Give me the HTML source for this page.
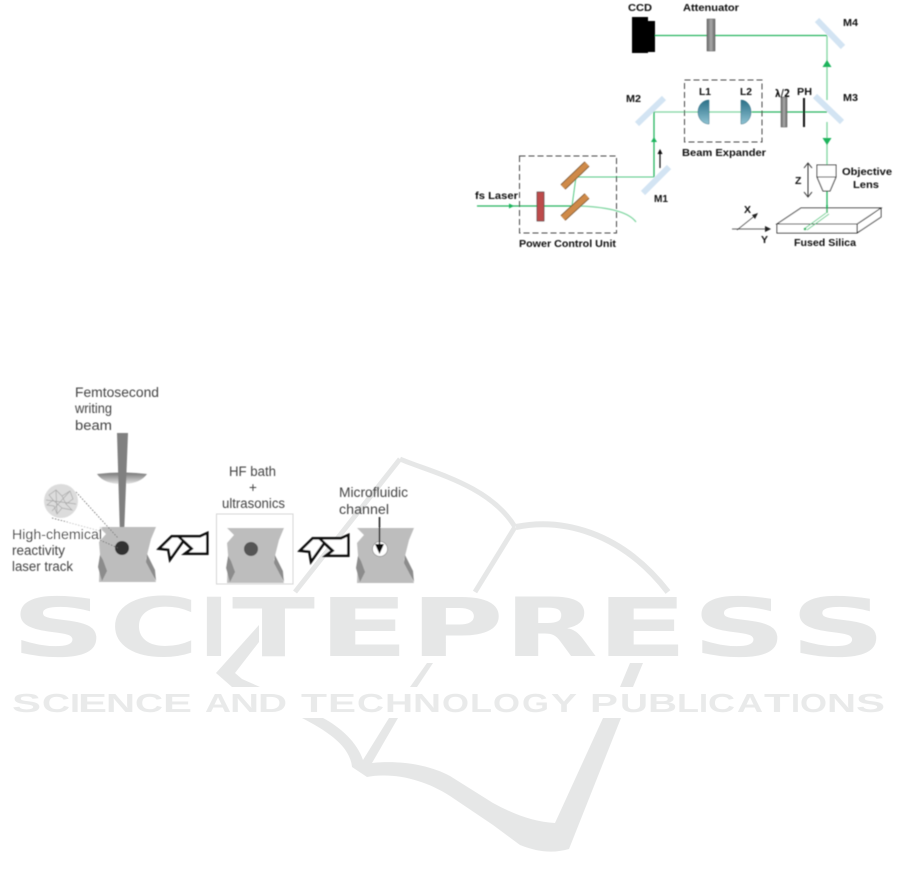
<!DOCTYPE html>
<html><head><meta charset="utf-8"><style>
html,body{margin:0;padding:0;background:#fff}
svg{display:block}
.b{font:bold 10.5px "Liberation Sans",sans-serif;fill:#111}
.t{font:13.5px "Liberation Sans",sans-serif;fill:#444}
.w{font:bold 81px "DejaVu Sans",sans-serif;fill:#e6e7e7}
.v{font:bold 26px "Liberation Sans",sans-serif;fill:#e9eaea}
</style></head><body>
<svg width="901" height="887" viewBox="0 0 901 887" xmlns="http://www.w3.org/2000/svg">
<defs>
<linearGradient id="gr" x1="0" x2="1" y1="0" y2="0"><stop offset="0" stop-color="#666"/><stop offset=".5" stop-color="#aaa"/><stop offset="1" stop-color="#666"/></linearGradient>
<linearGradient id="te" x1="0" x2="0" y1="0" y2="1"><stop offset="0" stop-color="#2b7088"/><stop offset="1" stop-color="#8fc3d3"/></linearGradient>
<linearGradient id="disk" x1="0" x2="0" y1="0" y2="1"><stop offset="0" stop-color="#777"/><stop offset="1" stop-color="#e4e4e4"/></linearGradient>
<filter id="s" x="-5%" y="-5%" width="110%" height="110%"><feGaussianBlur stdDeviation=".45"/></filter>
<filter id="s2" x="-5%" y="-5%" width="110%" height="110%"><feGaussianBlur stdDeviation=".6"/></filter>
<g id="sample">
<polygon points="0,0 57,0 52,12 47,32 57,55 0,55 1,27 0,15 7,7" fill="#bdbdbd"/>
<polygon points="1,28 -1,40 3,54 8,44 4,33" fill="#8c8c8c"/>
<polygon points="48,27 56,43 57,54 47,35" fill="#8c8c8c"/>
</g>
<g id="icon" fill="#fff" stroke="#111" stroke-width="2.6" stroke-linejoin="miter">
<polygon points="0,15.700 12.700,3.300 41,3.300 48.300,0 48.300,20.700 26,20.700 32.700,15.700 24.300,8 11,26.700 9.300,16.700"/>
<path d="M19.300 3.300L32.700 15.700" fill="none"/>
</g>
</defs>

<!-- watermark -->
<g fill="none" stroke="#e6e7e7" stroke-linecap="butt">
<path d="M400 459L295 592" stroke-width="5"/>
<path d="M400 459C430 472 490 485 515 527" stroke-width="5"/>
<path d="M515 527L475 592" stroke-width="5"/>
<path d="M516 527C560 518 620 530 668 592" stroke-width="6"/>
</g>
<g fill="#e6e7e7">
<polygon points="259,625 259,642 235,673 242,679 260,687 232,687 216,673"/>
<polygon points="427,663 433,663 417,687 410,687"/>
<polygon points="438,642 446,642 440,652"/>
<polygon points="630,663 643,663 633,687 620,687"/>
<path d="M302 718L323 718C340 727 357 742 363 760L389 718L398 718L372 763C400 760 430 765 450 776L493 803C515 815 535 822 555 823L603 718L621 718L569 849C555 853 540 853 520 845L493 825L450 796C425 780 395 772 367 777L352 767C350 745 325 730 302 718Z"/>
</g>
<g class="w">
<text x="11" y="656" textLength="95" lengthAdjust="spacingAndGlyphs">S</text>
<text x="109" y="656" textLength="90" lengthAdjust="spacingAndGlyphs">C</text>
<text x="200" y="656" textLength="28" lengthAdjust="spacingAndGlyphs">I</text>
<text x="232" y="656" textLength="83" lengthAdjust="spacingAndGlyphs">T</text>
<text x="318" y="656" textLength="91" lengthAdjust="spacingAndGlyphs">E</text>
<text x="410" y="656" textLength="94" lengthAdjust="spacingAndGlyphs">P</text>
<text x="504" y="656" textLength="94" lengthAdjust="spacingAndGlyphs">R</text>
<text x="596" y="656" textLength="92" lengthAdjust="spacingAndGlyphs">E</text>
<text x="692" y="656" textLength="95" lengthAdjust="spacingAndGlyphs">S</text>
<text x="790" y="656" textLength="96" lengthAdjust="spacingAndGlyphs">S</text>
</g>
<g class="v">
<text x="12" y="712" textLength="29" lengthAdjust="spacingAndGlyphs">S</text>
<text x="42" y="712" textLength="28" lengthAdjust="spacingAndGlyphs">C</text>
<text x="70" y="712" textLength="10" lengthAdjust="spacingAndGlyphs">I</text>
<text x="78" y="712" textLength="29" lengthAdjust="spacingAndGlyphs">E</text>
<text x="106" y="712" textLength="29" lengthAdjust="spacingAndGlyphs">N</text>
<text x="135" y="712" textLength="28" lengthAdjust="spacingAndGlyphs">C</text>
<text x="163" y="712" textLength="29" lengthAdjust="spacingAndGlyphs">E</text>
<text x="205" y="712" textLength="26" lengthAdjust="spacingAndGlyphs">A</text>
<text x="230" y="712" textLength="29" lengthAdjust="spacingAndGlyphs">N</text>
<text x="258" y="712" textLength="29" lengthAdjust="spacingAndGlyphs">D</text>
<text x="301" y="712" textLength="26" lengthAdjust="spacingAndGlyphs">T</text>
<text x="328" y="712" textLength="28" lengthAdjust="spacingAndGlyphs">E</text>
<text x="357" y="712" textLength="27" lengthAdjust="spacingAndGlyphs">C</text>
<text x="385" y="712" textLength="28" lengthAdjust="spacingAndGlyphs">H</text>
<text x="413" y="712" textLength="28" lengthAdjust="spacingAndGlyphs">N</text>
<text x="442" y="712" textLength="27" lengthAdjust="spacingAndGlyphs">O</text>
<text x="470" y="712" textLength="22" lengthAdjust="spacingAndGlyphs">L</text>
<text x="493" y="712" textLength="27" lengthAdjust="spacingAndGlyphs">O</text>
<text x="522" y="712" textLength="27" lengthAdjust="spacingAndGlyphs">G</text>
<text x="551" y="712" textLength="26" lengthAdjust="spacingAndGlyphs">Y</text>
<text x="590" y="712" textLength="28" lengthAdjust="spacingAndGlyphs">P</text>
<text x="620" y="712" textLength="28" lengthAdjust="spacingAndGlyphs">U</text>
<text x="648" y="712" textLength="29" lengthAdjust="spacingAndGlyphs">B</text>
<text x="677" y="712" textLength="22" lengthAdjust="spacingAndGlyphs">L</text>
<text x="699" y="712" textLength="9" lengthAdjust="spacingAndGlyphs">I</text>
<text x="708" y="712" textLength="27" lengthAdjust="spacingAndGlyphs">C</text>
<text x="737" y="712" textLength="26" lengthAdjust="spacingAndGlyphs">A</text>
<text x="764" y="712" textLength="26" lengthAdjust="spacingAndGlyphs">T</text>
<text x="791" y="712" textLength="9" lengthAdjust="spacingAndGlyphs">I</text>
<text x="800" y="712" textLength="27" lengthAdjust="spacingAndGlyphs">O</text>
<text x="827" y="712" textLength="29" lengthAdjust="spacingAndGlyphs">N</text>
<text x="856" y="712" textLength="29" lengthAdjust="spacingAndGlyphs">S</text>
</g>

<!-- optical setup -->
<g filter="url(#s)">
<rect x="632" y="17" width="16" height="36" fill="#000"/>
<rect x="648" y="21" width="7" height="31" fill="#000"/>
<g stroke="#d3e4f3" stroke-width="6">
<path d="M817 20L843 47M815 96L842 122M637 124L664 98M643 193L669 167"/>
</g>
<g fill="none" stroke="#7fd6a0" stroke-width="1.300">
<path d="M827 36V100M654 112H752M827 122V165"/>
</g>
<g fill="none" stroke="#22b45e" stroke-width="1.300">
<path d="M655 35.500H827M752 112H827M654 112V177"/>
<path d="M477 206H572"/>
<path d="M827 191V213"/>
</g>
<path d="M572 206L576 177H654" fill="none" stroke="#55c985" stroke-width="1"/>
<path d="M580 206C605 207 628 211 636 222" fill="none" stroke="#7fd6a0" stroke-width="1.200"/>
<rect x="707" y="19" width="8" height="32" fill="url(#gr)" stroke="#555" stroke-width=".5"/>
<g fill="#1db45c">
<polygon points="827,60 822.500,67 831.500,67"/>
<polygon points="827,145 822.500,138 831.500,138"/>
<polygon points="654,137 651,142 657,142"/>
<polygon points="514,206 509,203.500 509,208.500"/>
</g>
<rect x="684.500" y="80" width="77.500" height="62" fill="none" stroke="#444" stroke-width="1" stroke-dasharray="6 3"/>
<rect x="519.500" y="156" width="97" height="77" fill="none" stroke="#444" stroke-width="1" stroke-dasharray="6 3"/>
<path d="M709 100A11 12 0 0 0 709 124Z" fill="url(#te)" stroke="#2a6478" stroke-width=".5"/>
<path d="M741 100A10 12 0 0 1 741 124Z" fill="url(#te)" stroke="#2a6478" stroke-width=".5"/>
<rect x="781" y="97" width="6" height="30" fill="url(#gr)" stroke="#555" stroke-width=".5"/>
<rect x="803" y="98" width="2" height="29" fill="#111"/>
<rect x="537" y="192" width="7" height="29" fill="#bd4b4b" stroke="#333" stroke-width=".6"/>
<g stroke="#5c3a1e" stroke-width="7"><path d="M563 187L587 164M563 218L587 196"/></g>
<g stroke="#cf8a4a" stroke-width="5.600"><path d="M563 187L587 164M563 218L587 196"/></g>
<path d="M660 168V150" stroke="#111" stroke-width="1.200"/><polygon points="660,149 657.500,154 662.500,154" fill="#111"/>
<path d="M808 164V196" stroke="#333" stroke-width="1"/><path d="M804 168L808 163L812 168M804 192L808 197L812 192" fill="none" stroke="#333" stroke-width="1"/>
<path d="M817 165H836V177L830 191H823L817 177ZM817 177H836" fill="#fff" stroke="#333" stroke-width="1"/>
<path d="M777 224L801 208H881L857 224ZM777 224V233H857V224M857 233L881 217V208" fill="#fff" stroke="#222" stroke-width="1"/>
<path d="M826 213L804 229M829 214L807 230" fill="none" stroke="#5fce8c" stroke-width="1"/>
<circle cx="805" cy="229" r="1.300" fill="#1db45c"/>
<path d="M827 205V213" stroke="#1db45c" stroke-width="1.500"/>
<path d="M737 230L757 214" stroke="#333" stroke-width=".8"/><polygon points="758,213 752,215 755,219" fill="#222"/>
<path d="M732 229H768" stroke="#333" stroke-width=".8"/><polygon points="771,229 765,226 765,232" fill="#222"/>
<g class="b">
<text x="628" y="11" textLength="24" lengthAdjust="spacingAndGlyphs">CCD</text>
<text x="683" y="11" textLength="56" lengthAdjust="spacingAndGlyphs">Attenuator</text>
<text x="843" y="26" textLength="15" lengthAdjust="spacingAndGlyphs">M4</text>
<text x="699" y="95" textLength="12" lengthAdjust="spacingAndGlyphs">L1</text>
<text x="740" y="95" textLength="12" lengthAdjust="spacingAndGlyphs">L2</text>
<text x="775" y="97" textLength="15" lengthAdjust="spacingAndGlyphs" font-family="DejaVu Sans">λ/2</text>
<text x="797" y="95" textLength="15" lengthAdjust="spacingAndGlyphs">PH</text>
<text x="843" y="101" textLength="15" lengthAdjust="spacingAndGlyphs">M3</text>
<text x="626" y="102" textLength="15" lengthAdjust="spacingAndGlyphs">M2</text>
<text x="682" y="156" textLength="84" lengthAdjust="spacingAndGlyphs">Beam Expander</text>
<text x="475" y="199" textLength="43" lengthAdjust="spacingAndGlyphs">fs Laser</text>
<text x="654" y="202" textLength="14" lengthAdjust="spacingAndGlyphs">M1</text>
<text x="519" y="247" textLength="97" lengthAdjust="spacingAndGlyphs">Power Control Unit</text>
<text x="795" y="184">Z</text>
<text x="842" y="175" textLength="50" lengthAdjust="spacingAndGlyphs">Objective</text>
<text x="853" y="188" textLength="26" lengthAdjust="spacingAndGlyphs">Lens</text>
<text x="744" y="213">X</text>
<text x="761" y="243">Y</text>
<text x="794" y="246" textLength="62" lengthAdjust="spacingAndGlyphs">Fused Silica</text>
</g>
</g>

<!-- process figure -->
<g filter="url(#s2)">
<text class="t" x="75" y="397" textLength="84" lengthAdjust="spacingAndGlyphs">Femtosecond</text>
<text class="t" x="75" y="413" textLength="37" lengthAdjust="spacingAndGlyphs">writing</text>
<text class="t" x="75" y="430" textLength="37" lengthAdjust="spacingAndGlyphs">beam</text>
<path d="M97 474Q122 471 147 474Q140 484 122 484Q104 484 97 474Z" fill="url(#disk)"/>
<polygon points="117,433 128,433 124,536 120,536" fill="#808080"/>
<circle cx="61" cy="501" r="17" fill="#dcdcdc"/>
<path d="M49 495L56 490L62 496L70 491L73 499L66 504L72 510L62 508L57 514L54 506L47 505L53 500ZM56 490L57 514M46 500L76 504M52 511L70 491M62 496L66 504M53 500L62 508" fill="none" stroke="#a8a8a8" stroke-width=".7"/>
<use href="#sample" x="99" y="527"/>
<circle cx="122" cy="548" r="7" fill="#333"/>
<path d="M76 492L118 538M52 518L100 531M100 540L118 548" fill="none" stroke="#666" stroke-width=".8" stroke-dasharray="1.500 1.500"/>
<rect x="12" y="522" width="90" height="16" fill="#fff" opacity=".55"/>
<text class="t" x="12" y="539" textLength="90" lengthAdjust="spacingAndGlyphs">High-chemical</text>
<text class="t" x="12" y="555" textLength="53" lengthAdjust="spacingAndGlyphs">reactivity</text>
<text class="t" x="12" y="571" textLength="61" lengthAdjust="spacingAndGlyphs">laser track</text>
<use href="#icon" x="159" y="533"/>
<use href="#icon" x="300" y="535"/>
<rect x="216.500" y="514" width="76.500" height="70" fill="#fff" stroke="#d4d4d4" stroke-width="1"/>
<use href="#sample" x="227" y="528"/>
<circle cx="251" cy="549" r="7" fill="#555"/>
<text class="t" x="229" y="476" textLength="47" lengthAdjust="spacingAndGlyphs">HF bath</text>
<text class="t" x="249" y="492">+</text>
<text class="t" x="222" y="508" textLength="63" lengthAdjust="spacingAndGlyphs">ultrasonics</text>
<use href="#sample" x="357" y="528"/>
<circle cx="380" cy="549" r="7.500" fill="#fff" stroke="#888" stroke-width=".7"/>
<path d="M379.500 517V547" stroke="#111" stroke-width="1.400"/>
<polygon points="379.500,554 375,544 384,544" fill="#111"/>
<text class="t" x="339" y="497" textLength="69" lengthAdjust="spacingAndGlyphs">Microfluidic</text>
<text class="t" x="339" y="514" textLength="50" lengthAdjust="spacingAndGlyphs">channel</text>
</g>
</svg>
</body></html>
